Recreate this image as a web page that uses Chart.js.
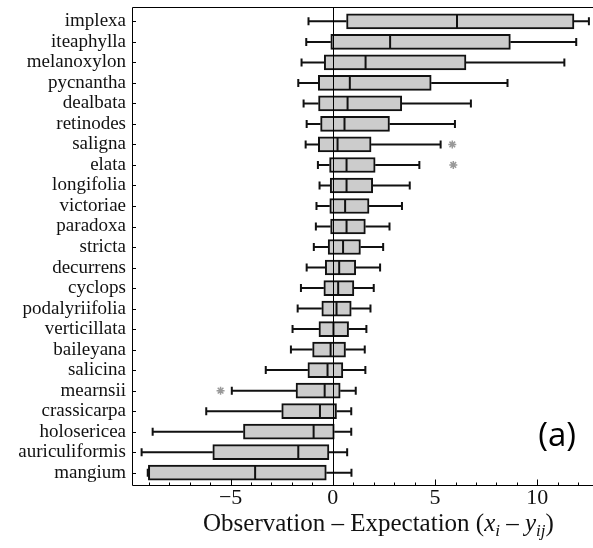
<!DOCTYPE html>
<html lang="en">
<head>
    <meta charset="UTF-8">
    <title>Observation - Expectation</title>
    <script src="https://cdn.jsdelivr.net/npm/chart.js"></script>
    <style>
        html, body { margin: 0; padding: 0; background: #fff; }
        .wrap { position: relative; width: 593px; height: 548px; }
    </style>
</head>
<body>
    <div class="wrap">
        <canvas id="boxChart" width="593" height="548"></canvas>
    </div>

    <script>
        // species, top to bottom
        const species = ['implexa', 'iteaphylla', 'melanoxylon', 'pycnantha', 'dealbata', 'retinodes',
            'saligna', 'elata', 'longifolia', 'victoriae', 'paradoxa', 'stricta', 'decurrens', 'cyclops',
            'podalyriifolia', 'verticillata', 'baileyana', 'salicina', 'mearnsii', 'crassicarpa',
            'holosericea', 'auriculiformis', 'mangium'];

        // box statistics
        const whiskerLow = [-1.19, -1.30, -1.53, -1.69, -1.43, -1.28, -1.33, -0.73, -0.65, -0.80, -0.83, -0.93,
            -1.28, -1.56, -1.72, -1.97, -2.05, -3.28, -4.94, -6.19, -8.81, -9.35, -9.05];
        const q1 = [0.67, -0.10, -0.42, -0.71, -0.70, -0.60, -0.71, -0.16, -0.13, -0.15, -0.11, -0.23,
            -0.37, -0.44, -0.54, -0.68, -0.99, -1.22, -1.80, -2.50, -4.37, -5.87, -9.02];
        const median = [6.07, 2.80, 1.60, 0.83, 0.72, 0.57, 0.23, 0.67, 0.67, 0.60, 0.67, 0.50,
            0.31, 0.26, 0.18, 0.03, -0.11, -0.26, -0.40, -0.63, -0.94, -1.69, -3.80];
        const q3 = [11.79, 8.68, 6.51, 4.81, 3.37, 2.77, 1.87, 2.07, 1.95, 1.77, 1.59, 1.35,
            1.12, 1.03, 0.90, 0.77, 0.62, 0.49, 0.36, 0.18, 0.07, -0.19, -0.32];
        const whiskerHigh = [12.52, 11.90, 11.32, 8.54, 6.75, 5.97, 5.27, 4.23, 3.76, 3.38, 2.77, 2.46,
            2.31, 2.00, 1.84, 1.64, 1.56, 1.59, 1.12, 0.90, 0.90, 0.70, 0.91];

        // outliers (asterisks)
        const outlierSpecies = ['saligna', 'elata', 'mearnsii'];
        const outlierValues = [5.84, 5.89, -5.49];

        const xTickValues = [-5, 0, 5, 10];
        const xMin = -9.82;
        const xMax = 12.72;
        const yMin = -0.7;
        const yMax = 22.6;

        const boxPlugin = {
            id: 'boxParts',
            beforeDatasetsDraw(chart) {
                const ctx = chart.ctx;
                const x = chart.scales.x;
                const y = chart.scales.y;
                ctx.save();
                ctx.strokeStyle = '#111';
                ctx.lineWidth = 2;
                species.forEach((s, i) => {
                    const py = y.getPixelForValue(i);
                    const pLow = x.getPixelForValue(whiskerLow[i]);
                    const pHigh = x.getPixelForValue(whiskerHigh[i]);
                    const pQ1 = x.getPixelForValue(q1[i]);
                    const pQ3 = x.getPixelForValue(q3[i]);
                    ctx.beginPath();
                    ctx.moveTo(pLow, py); ctx.lineTo(pQ1, py);
                    ctx.moveTo(pQ3, py); ctx.lineTo(pHigh, py);
                    ctx.moveTo(pLow, py - 4); ctx.lineTo(pLow, py + 4);
                    ctx.moveTo(pHigh, py - 4); ctx.lineTo(pHigh, py + 4);
                    ctx.stroke();
                });
                ctx.restore();
            },
            afterDatasetsDraw(chart) {
                const ctx = chart.ctx;
                const x = chart.scales.x;
                const y = chart.scales.y;
                const area = chart.chartArea;
                ctx.save();
                // medians
                ctx.strokeStyle = '#111';
                ctx.lineWidth = 2;
                species.forEach((s, i) => {
                    const py = y.getPixelForValue(i);
                    const pm = x.getPixelForValue(median[i]);
                    ctx.beginPath();
                    ctx.moveTo(pm, py - 7); ctx.lineTo(pm, py + 7);
                    ctx.stroke();
                });
                // zero line
                const p0 = Math.round(x.getPixelForValue(0)) + 0.5;
                ctx.lineWidth = 1;
                ctx.strokeStyle = '#000';
                ctx.beginPath();
                ctx.moveTo(p0, area.top); ctx.lineTo(p0, area.bottom);
                ctx.stroke();
                // frame: top, left, bottom (right edge falls outside the picture)
                const l = area.left + 0.5, t = area.top + 0.5, b = Math.round(area.bottom) + 0.5;
                ctx.beginPath();
                ctx.moveTo(area.right, t); ctx.lineTo(l, t); ctx.lineTo(l, b); ctx.lineTo(area.right, b);
                ctx.stroke();
                // inward ticks on x (major every 5, minor every 1)
                for (let v = Math.ceil(xMin); v <= xMax; v++) {
                    const px = Math.round(x.getPixelForValue(v)) + 0.5;
                    const len = (v % 5 === 0) ? 6 : 3;
                    ctx.beginPath();
                    ctx.moveTo(px, b); ctx.lineTo(px, b - len);
                    ctx.stroke();
                }
                // inward ticks on y
                species.forEach((s, i) => {
                    const py = Math.round(y.getPixelForValue(i)) + 0.5;
                    ctx.beginPath();
                    ctx.moveTo(area.left, py); ctx.lineTo(area.left + 4, py);
                    ctx.stroke();
                });
                ctx.restore();
            },
            afterDraw(chart) {
                const ctx = chart.ctx;
                ctx.save();
                ctx.fillStyle = '#111';
                ctx.textBaseline = 'alphabetic';
                // axis title with italic subscripts
                const base = 531;
                let cx = 203;
                const parts = [
                    { t: 'Observation \u2013 Expectation (', f: '25px "Liberation Serif"', dy: 0 },
                    { t: 'x', f: 'italic 25px "Liberation Serif"', dy: 0 },
                    { t: 'i', f: 'italic 17px "Liberation Serif"', dy: 5 },
                    { t: ' \u2013 ', f: '25px "Liberation Serif"', dy: 0 },
                    { t: 'y', f: 'italic 25px "Liberation Serif"', dy: 0 },
                    { t: 'ij', f: 'italic 17px "Liberation Serif"', dy: 5 },
                    { t: ')', f: '25px "Liberation Serif"', dy: 0 }
                ];
                parts.forEach(p => {
                    ctx.font = p.f;
                    ctx.fillText(p.t, cx, base + p.dy);
                    cx += ctx.measureText(p.t).width;
                });
                // panel label
                ctx.font = '33px "Open Sans"';
                ctx.textBaseline = 'middle';
                ctx.textAlign = 'right';
                ctx.fillStyle = '#000';
                ctx.fillText('(a)', 576, 437);
                ctx.restore();
            }
        };

        const ctx = document.getElementById('boxChart').getContext('2d');
        new Chart(ctx, {
            data: {
                datasets: [{
                    type: 'bar',
                    label: 'IQR',
                    data: species.map((s, i) => ({ y: i, x: [q1[i], q3[i]] })),
                    backgroundColor: '#cccccc',
                    borderColor: '#111',
                    borderWidth: 2,
                    borderSkipped: false,
                    barThickness: 15
                }, {
                    type: 'scatter',
                    label: 'outliers',
                    data: outlierSpecies.map((s, i) => ({ x: outlierValues[i], y: species.indexOf(s) })),
                    pointStyle: 'star',
                    radius: 4,
                    borderWidth: 1.5,
                    borderColor: '#999',
                    backgroundColor: '#999'
                }]
            },
            options: {
                indexAxis: 'y',
                responsive: false,
                animation: false,
                layout: { autoPadding: false, padding: { top: 7, right: 0, left: 0, bottom: 0 } },
                plugins: {
                    legend: { display: false },
                    tooltip: { enabled: false }
                },
                scales: {
                    x: {
                        type: 'linear',
                        min: xMin,
                        max: xMax,
                        offset: false,
                        afterBuildTicks(scale) {
                            scale.ticks = xTickValues.map(v => ({ value: v }));
                        },
                        afterFit(scale) {
                            scale.height = 63;
                            scale.paddingLeft = 0;
                            scale.paddingRight = 0;
                        },
                        grid: { display: false, drawTicks: false },
                        border: { display: false },
                        ticks: {
                            padding: 0,
                            color: '#111',
                            maxRotation: 0,
                            font: { family: 'Liberation Serif', size: 22 },
                            callback: v => (v < 0 ? '\u2212' + Math.abs(v) : String(v))
                        }
                    },
                    y: {
                        type: 'linear',
                        reverse: true,
                        offset: false,
                        min: yMin,
                        max: yMax,
                        afterBuildTicks(scale) {
                            scale.ticks = species.map((s, i) => ({ value: i }));
                        },
                        afterFit(scale) {
                            scale.width = 132;
                            scale.paddingTop = 0;
                            scale.paddingBottom = 0;
                        },
                        grid: { display: false, drawTicks: false },
                        border: { display: false },
                        ticks: {
                            padding: 6,
                            color: '#111',
                            autoSkip: false,
                            font: { family: 'Liberation Serif', size: 19 },
                            callback: v => species[v]
                        }
                    }
                }
            },
            plugins: [boxPlugin]
        });
    </script>
</body>
</html>
